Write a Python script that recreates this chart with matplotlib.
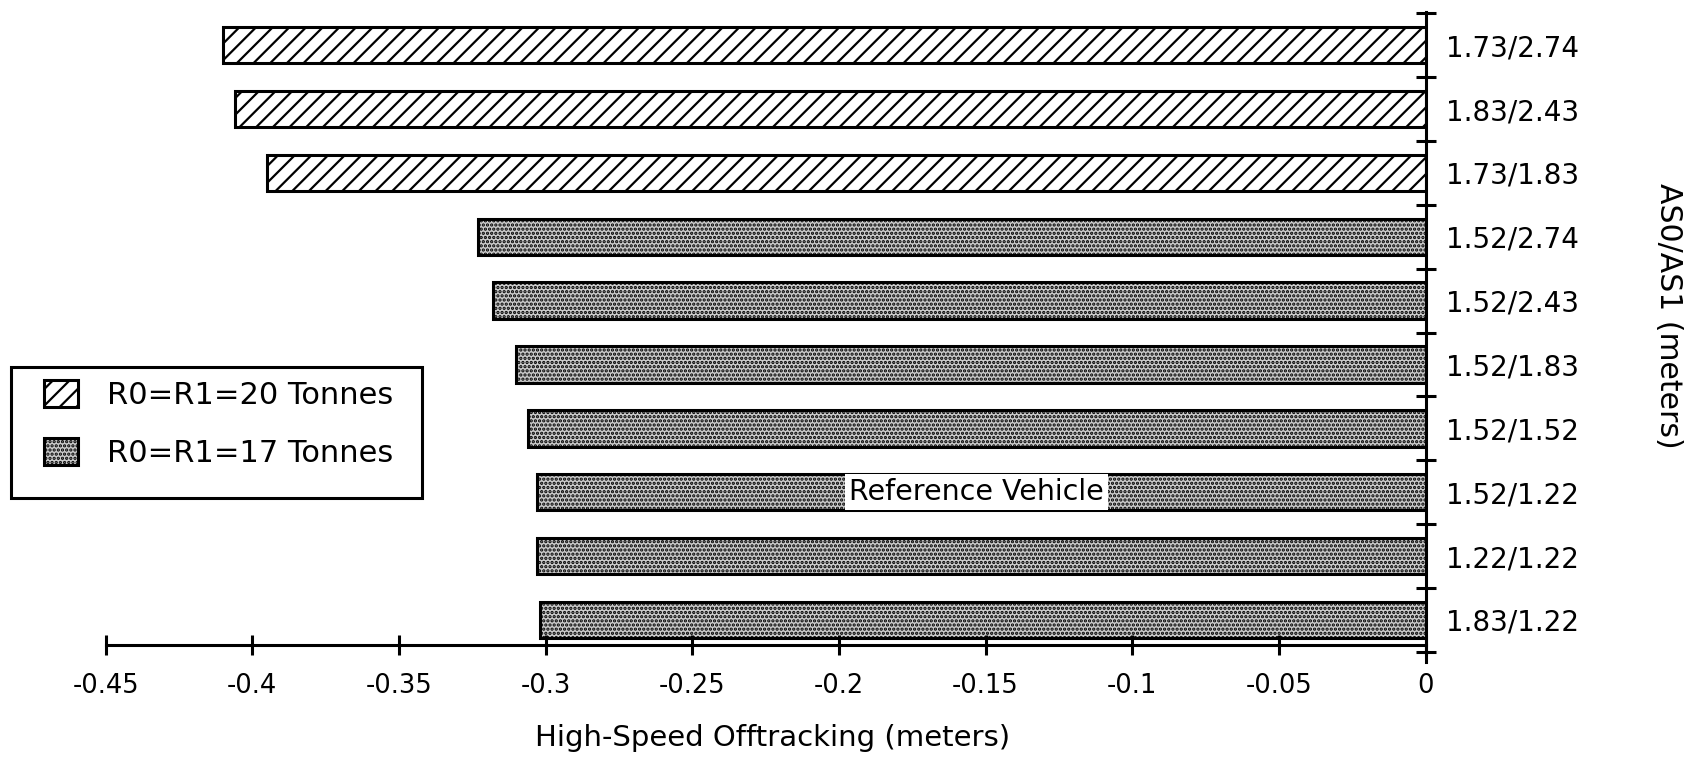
import matplotlib
matplotlib.use('Agg')
import matplotlib.pyplot as plt
from matplotlib.patches import Patch, Rectangle
import numpy as np

OUTPUT_FILENAME = 'out.png'

# top to bottom, as in the figure
labels = ['1.73/2.74', '1.83/2.43', '1.73/1.83', '1.52/2.74', '1.52/2.43',
          '1.52/1.83', '1.52/1.52', '1.52/1.22', '1.22/1.22', '1.83/1.22']
offtracking = [-0.410, -0.406, -0.395, -0.323, -0.318,
               -0.310, -0.306, -0.303, -0.303, -0.302]
load_group = ['20', '20', '20', '17', '17', '17', '17', '17', '17', '17']
group_names = {'20': 'R0=R1=20 Tonnes', '17': 'R0=R1=17 Tonnes'}
reference_label = '1.52/1.22'

xticks = [-0.45, -0.4, -0.35, -0.3, -0.25, -0.2, -0.15, -0.1, -0.05, 0]

plt.rcParams['font.family'] = ['DejaVu Sans']
plt.rcParams['hatch.linewidth'] = 1.6

W, H = 1691, 758


def plot_chart():
    fig = plt.figure(figsize=(W / 100, H / 100), dpi=100, facecolor='white')
    ax = fig.add_axes([0.0625, 0.1266, 0.7805, 0.8575])

    n = len(labels)
    ypos = np.arange(n)[::-1]

    styles = {
        '20': dict(facecolor='white', hatch='//'),
        '17': dict(facecolor='#cacaca', hatch='....'),
    }
    for y, v, g in zip(ypos, offtracking, load_group):
        ax.barh(y, v, height=0.57, edgecolor='black', linewidth=2.2, **styles[g])

    # reference vehicle tag
    ref_y = ypos[labels.index(reference_label)]
    ax.text(-0.153, ref_y, 'Reference Vehicle', ha='center', va='center',
            fontsize=20.5, bbox=dict(facecolor='white', edgecolor='none', pad=3))

    ax.set_xlim(-0.45, 0)
    ax.set_ylim(-0.66, n - 0.48)

    for side in ['left', 'top']:
        ax.spines[side].set_visible(False)
    ax.spines['bottom'].set_position(('data', -0.39))
    ax.spines['bottom'].set_linewidth(2.2)
    ax.spines['right'].set_linewidth(2.2)

    ax.set_xticks(xticks)
    ax.set_xticklabels([('%g' % t) for t in xticks], fontsize=18.5)
    ax.tick_params(axis='x', direction='inout', length=15, width=2.2, pad=13)

    ax.yaxis.tick_right()
    ax.set_yticks(np.arange(-0.5, n, 1.0))
    ax.set_yticklabels([])
    ax.set_yticks(ypos, minor=True)
    ax.set_yticklabels(labels, minor=True, fontsize=20)
    ax.tick_params(axis='y', which='major', direction='inout', length=15, width=2.2)
    ax.tick_params(axis='y', which='minor', length=0, pad=15)

    fig.text(535 / W, 1 - 738 / H, 'High-Speed Offtracking (meters)', ha='left',
             va='center', fontsize=21)
    fig.text(1668 / W, 1 - 316 / H, 'AS0/AS1 (meters)', ha='center', va='center',
             rotation=270, fontsize=21.5)

    # legend: frame drawn by hand, entries from fig.legend
    fig.patches.append(Rectangle((11 / W, 1 - 498 / H), 411 / W, 131 / H,
                                 transform=fig.transFigure, facecolor='white',
                                 edgecolor='black', linewidth=2.2, zorder=0))
    handles = [Patch(edgecolor='black', linewidth=2.2, **styles[g]) for g in ['20', '17']]
    fig.legend(handles, [group_names['20'], group_names['17']],
               loc='upper left', bbox_to_anchor=(44 / W, 1 - 380 / H),
               bbox_transform=fig.transFigure, borderaxespad=0, borderpad=0,
               fontsize=22, handlelength=1.1, handleheight=1.0,
               handletextpad=0.95, labelspacing=0.9, frameon=False)

    fig.savefig(OUTPUT_FILENAME, facecolor=fig.get_facecolor())
    plt.close('all')


def main():
    plot_chart()


if __name__ == "__main__":
    main()
